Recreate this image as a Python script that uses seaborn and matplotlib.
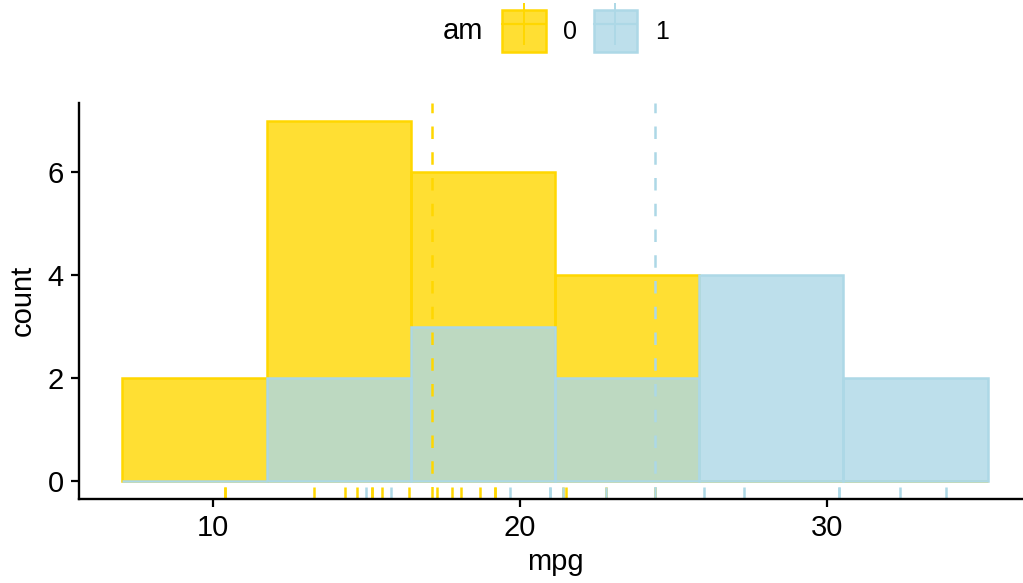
import numpy as np
import pandas as pd
import matplotlib
matplotlib.use("Agg")
import matplotlib.pyplot as plt
import seaborn as sns
from matplotlib.patches import Patch
from matplotlib.lines import Line2D
from matplotlib.legend_handler import HandlerTuple

# mtcars mpg by transmission (am)
mpg_am0 = [21.4, 18.7, 18.1, 14.3, 24.4, 22.8, 19.2, 17.8, 16.4, 17.3,
           15.2, 10.4, 10.4, 14.7, 21.5, 15.5, 15.2, 13.3, 19.2]
mpg_am1 = [21.0, 21.0, 22.8, 32.4, 30.4, 33.9, 27.3, 26.0, 30.4, 15.8,
           19.7, 15.0, 21.4]
groups = ["0", "1"]
colors = {"0": "#FFD700", "1": "#ADD8E6"}
bin_edges = [7.05, 11.75, 16.45, 21.15, 25.85, 30.55, 35.25]
x_ticks = [10, 20, 30]
y_ticks = [0, 2, 4, 6]

df = pd.DataFrame({
    "mpg": mpg_am0 + mpg_am1,
    "am": ["0"] * len(mpg_am0) + ["1"] * len(mpg_am1),
})

sns.set_theme(style="white")
plt.rcParams["font.family"] = ["Liberation Sans", "DejaVu Sans"]
plt.rcParams["text.color"] = "black"
plt.rcParams["axes.labelcolor"] = "black"
plt.rcParams["xtick.color"] = "black"
plt.rcParams["ytick.color"] = "black"

W, H = 1023, 583
fig = plt.figure(figsize=(W / 100, H / 100), dpi=100)
ax = fig.add_axes([79 / W, 84 / H, (1031 - 79) / W, 396.3 / H])

for g in groups:
    sub = df[df["am"] == g]
    sns.histplot(data=sub, x="mpg", bins=bin_edges, color=colors[g],
                 alpha=0.8, edgecolor=colors[g], linewidth=1.8, ax=ax)

for g in groups:
    sub = df[df["am"] == g]
    sns.rugplot(data=sub, x="mpg", height=0.03, color=colors[g],
                linewidth=1.8, ax=ax)

for g in groups:
    m = df.loc[df["am"] == g, "mpg"].mean()
    ax.axvline(m, color=colors[g], linestyle=(0, (5, 5.3)), linewidth=1.8)

ax.set_xlim(5.64, 36.66)
ax.set_ylim(-0.35, 7.35)
ax.set_xticks(x_ticks)
ax.set_yticks(y_ticks)
ax.set_xlabel("mpg", fontsize=21, labelpad=4)
ax.set_ylabel("count", fontsize=21, labelpad=8)
ax.tick_params(axis="both", labelsize=21, length=6, width=1.6,
               color="black", labelcolor="black", pad=5, direction="out",
               bottom=True, left=True)
for s in ["top", "right"]:
    ax.spines[s].set_visible(False)
for s in ["left", "bottom"]:
    ax.spines[s].set_color("black")
    ax.spines[s].set_linewidth(1.7)
ax.grid(False)

# legend
handles = []
for g in groups:
    box = Patch(facecolor=matplotlib.colors.to_rgba(colors[g], 0.8),
                edgecolor=colors[g], linewidth=1.8)
    hline = Line2D([0, 1], [0, 0], color=colors[g], linewidth=1.6)
    vline = Line2D([], [], color=colors[g], marker="|", markersize=30,
                   markeredgewidth=1.4, linestyle="None")
    handles.append((box, hline, vline))
fig.text(463 / W, 1 - 31 / H, "am", fontsize=21, ha="center", va="center")
fig.legend(handles, groups, loc="center left",
           bbox_to_anchor=(502 / W, 1 - 31 / H), ncol=2, frameon=False,
           fontsize=18, handlelength=1.75, handleheight=2.25,
           handletextpad=0.7, columnspacing=0.65, borderpad=0,
           borderaxespad=0,
           handler_map={tuple: HandlerTuple(ndivide=1, pad=0)})

fig.savefig("out.png", dpi=100)
